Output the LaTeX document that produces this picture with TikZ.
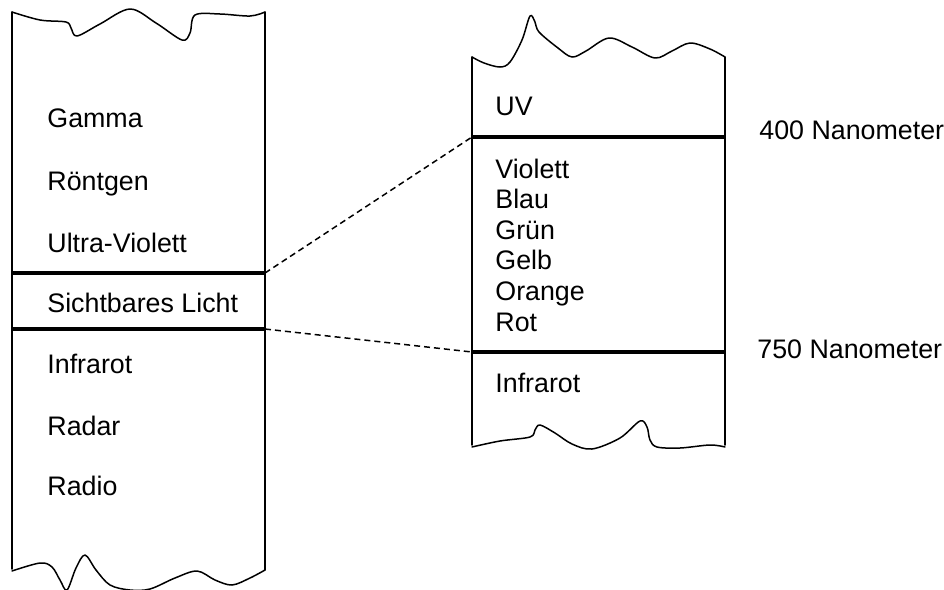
\documentclass[tikz,border=0pt]{standalone}
\usepackage{fontspec}
\setmainfont{Liberation Sans}

\begin{document}
\begin{tikzpicture}[x=0.5pt, y=-0.5pt, line join=round, line cap=round,
    rand/.style={line width=0.75pt},
    grenze/.style={line width=1.6pt, line cap=butt},
    verweis/.style={line width=0.75pt, line cap=butt, dash pattern=on 3pt off 2pt},
    eintrag/.style={anchor=base west, inner sep=0pt, font=\fontsize{13.4}{16}\selectfont}]
    \useasboundingbox (0,0) rectangle (944,590);

    % Spektrum, linke Saeule
    \draw [rand] (12,569) -- (12,12);
    \draw [rand] (265,570) -- (265,12);
    \draw [rand] plot [smooth, tension=0.55] coordinates {(12,12) (40,20) (66,22) (71,28) (77,36) (100,24) (130,9) (156,23) (182,40) (190,33) (195,15) (220,14) (250,16) (265,12)};
    \draw [rand] plot [smooth, tension=0.55] coordinates {(12,571) (40,563) (52,567) (60,580) (67,590) (76,568) (85,555) (96,570) (110,585) (130,590) (150,589) (175,578) (197,571) (215,580) (232,585) (250,578) (265,570)};

    % Grenzen um das sichtbare Licht
    \coordinate (lichtOL) at (12,273);
    \coordinate (lichtOR) at (265,273);
    \coordinate (lichtUL) at (12,329);
    \coordinate (lichtUR) at (265,329);
    \draw [grenze] (lichtOL) -- (lichtOR);
    \draw [grenze] (lichtUL) -- (lichtUR);

    % Eintraege links
    \node [eintrag] (gamma)   at (47,127) {Gamma};
    \node [eintrag] (roentgen) at (47,190) {Röntgen};
    \node [eintrag] (uvlang)  at (47,252) {Ultra-Violett};
    \node [eintrag] (licht)   at (47,312) {Sichtbares Licht};
    \node [eintrag] (irlang)  at (47,373) {Infrarot};
    \node [eintrag] (radar)   at (47,435) {Radar};
    \node [eintrag] (radio)   at (47,495) {Radio};

    % Ausschnitt, rechte Saeule
    \draw [rand] (472,445) -- (472,57);
    \draw [rand] (725,445) -- (725,57);
    \draw [rand] plot [smooth, tension=0.55] coordinates {(472,57) (484,63) (500,67) (510,62) (522,40) (530,16) (535,22) (539,32) (558,48) (572,57) (586,51) (609,38) (632,47) (655,58) (672,51) (690,43) (710,49) (725,57)};
    \draw [rand] plot [smooth, tension=0.55] coordinates {(472,447) (500,441) (530,437) (535,430) (540,425) (555,433) (572,444) (592,449) (620,438) (640,421) (647,427) (650,440) (657,447) (680,448) (710,445) (725,447)};

    % Grenzen bei 400 und 750 nm
    \coordinate (nmOL) at (472,137);
    \coordinate (nmOR) at (725,137);
    \coordinate (nmUL) at (472,352);
    \coordinate (nmUR) at (725,352);
    \draw [grenze] (nmOL) -- (nmOR);
    \draw [grenze] (nmUL) -- (nmUR);

    % Eintraege rechts
    \node [eintrag] (uv)      at (495,115) {UV};
    \node [eintrag] (violett) at (495,178) {Violett};
    \node [eintrag] (blau)    at (495,208) {Blau};
    \node [eintrag] (gruen)   at (495,239) {Grün};
    \node [eintrag] (gelb)    at (495,269) {Gelb};
    \node [eintrag] (orange)  at (495,300) {Orange};
    \node [eintrag] (rot)     at (495,331) {Rot};
    \node [eintrag] (ir)      at (495,392) {Infrarot};

    % Wellenlaengen
    \node [eintrag] (nm400) at (759,139) {400 Nanometer};
    \node [eintrag] (nm750) at (757,358) {750 Nanometer};

    % Verweise
    \draw [verweis] (lichtOR) -- (nmOL);
    \draw [verweis] (lichtUR) -- (nmUL);
\end{tikzpicture}
\end{document}
